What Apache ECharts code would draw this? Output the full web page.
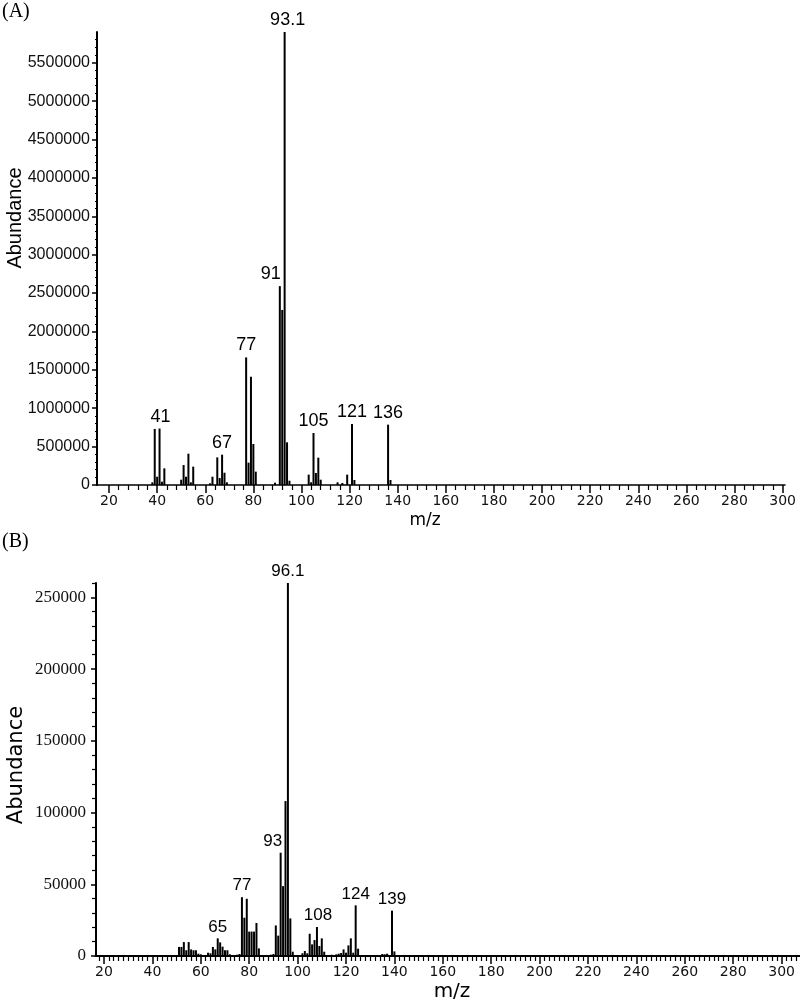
<!DOCTYPE html>
<html><head><meta charset="utf-8">
<script src="https://cdn.jsdelivr.net/npm/echarts@6/dist/echarts.min.js"></script>
<style>html,body{margin:0;padding:0;background:#fff}#c{width:800px;height:1001px}</style>
</head><body><div id="c"></div>
<script>
// ---- Data ----
const mzA = [38,39,40,41,42,43,50,51,52,53,54,55,62,63,65,66,67,68,69,77,78,79,80,81,89,91,92,93,94,95,103,104,105,106,107,108,115,117,119,121,122,136,137];
const abundanceA = [35000,730000,108000,735000,43000,217000,69000,260000,108000,408000,35000,239000,22000,108000,360000,91000,395000,160000,35000,1662000,291000,1410000,534000,174000,30000,2590000,2280000,5900000,556000,56000,135000,35000,677000,156000,356000,69000,35000,26000,135000,794000,65000,786000,65000];
const peakLabelsA = [[41,'41'],[67,'67'],[77,'77'],[91,'91'],[93,'93.1'],[105,'105'],[121,'121'],[136,'136']];

const mzB = [51,52,53,54,55,56,57,58,59,60,61,63,64,65,66,67,68,69,70,71,72,75,76,77,78,79,80,81,82,83,84,89,90,91,92,93,94,95,96,97,98,102,103,104,105,106,107,108,109,110,111,114,116,117,118,119,120,121,122,123,124,125,135,136,137,139,140];
const abundanceB = [6300,6300,9700,4000,9700,4600,4000,4000,1600,1200,700,2300,1900,6300,4600,12300,9500,6500,4000,4000,1200,900,1400,41000,26700,39900,17000,17000,17000,23000,5300,900,1400,21300,14200,72000,48700,108000,260000,26200,3000,1900,3500,1900,15500,8100,11100,20200,7000,12300,3000,900,1200,1600,2100,4600,2300,7400,12300,2300,35300,5100,1400,1200,1600,31600,3200];
const peakLabelsB = [[67,'65'],[77,'77'],[93,'93'],[96,'96.1'],[108,'108'],[124,'124'],[139,'139']];

const xTickLabels = [20,40,60,80,100,120,140,160,180,200,220,240,260,280,300];
const yTickLabelsA = [0,500000,1000000,1500000,2000000,2500000,3000000,3500000,4000000,4500000,5000000,5500000];
const yTickLabelsB = [0,50000,100000,150000,200000,250000];

// ---- Layout / style ----
const labelOffsetA = {91: [-9, 0], 93: [3, 0], 41: [1, 0]};
const labelOffsetB = {93: [-8, 0], 108: [1, 0]};

function range(a, b, step) { const r = []; for (let v = a; v <= b + 1e-9; v += step) r.push(+v.toFixed(6)); return r; }
const xMinorA = range(20, 300, 4).filter(v => v % 20 !== 0);
const xMinorB = range(18, 306, 2).filter(v => v % 20 !== 0);
const yMinorA = range(0, 5800000, 100000).filter(v => v % 500000 !== 0);
const yMinorB = range(0, 260000, 10000).filter(v => v % 50000 !== 0);

function buildData(mz, ab, labels, offsets, fs) {
  const lab = {}; labels.forEach(([m, t]) => lab[m] = t);
  return mz.map((m, i) => {
    const item = { value: [m, ab[i]] };
    if (lab[m] !== undefined) {
      item.label = { show: true, position: 'top', distance: 3, formatter: lab[m],
        offset: offsets[m] || [0, 0], color: '#000', fontFamily: 'Liberation Sans', fontSize: fs };
    }
    return item;
  });
}

const gridA = { left: 97, top: 32, width: 688, height: 453 };
const gridB = { left: 96, top: 583, width: 704, height: 373 };
const xRangeA = [15, 301], xRangeB = [16.7, 307.6];
const yMaxA = 5900000, yMaxB = 260000;

const plain = v => String(Math.round(v));
const xLabelStyle = { color: '#111', fontFamily: 'DejaVu Sans', fontSize: 14, formatter: plain };

function xAxes(gridIndex, rng, minor, minorLen, lineW) {
  return [
    { type: 'value', gridIndex, min: rng[0], max: rng[1], position: 'bottom',
      axisLine: { show: true, onZero: false, lineStyle: { color: '#000', width: lineW } },
      axisTick: { show: true, inside: false, length: 8, customValues: xTickLabels, lineStyle: { color: '#000', width: 1.5 } },
      axisLabel: Object.assign({ show: true, margin: 9, customValues: xTickLabels }, xLabelStyle),
      splitLine: { show: false } },
    { type: 'value', gridIndex, min: rng[0], max: rng[1], position: 'bottom',
      axisLine: { show: false, onZero: false },
      axisTick: { show: true, inside: false, length: minorLen, customValues: minor, lineStyle: { color: '#000', width: 1.2 } },
      axisLabel: { show: false }, splitLine: { show: false } }
  ];
}
function yAxes(gridIndex, max, ticks, minor, minorLen, labelStyle, margin) {
  return [
    { type: 'value', gridIndex, min: 0, max, position: 'left',
      axisLine: { show: true, onZero: false, lineStyle: { color: '#000', width: 2 } },
      axisTick: { show: true, inside: false, length: 5, customValues: ticks, lineStyle: { color: '#000', width: 1.5 } },
      axisLabel: Object.assign({ show: true, margin, customValues: ticks, formatter: plain }, labelStyle),
      splitLine: { show: false } },
    { type: 'value', gridIndex, min: 0, max, position: 'left',
      axisLine: { show: false, onZero: false },
      axisTick: { show: true, inside: false, length: minorLen, customValues: minor, lineStyle: { color: '#000', width: 1.2 } },
      axisLabel: { show: false }, splitLine: { show: false } }
  ];
}

const option = {
  animation: false,
  backgroundColor: '#fff',
  grid: [gridA, gridB],
  xAxis: [...xAxes(0, xRangeA, xMinorA, 5, 1.5), ...xAxes(1, xRangeB, xMinorB, 5, 2)],
  yAxis: [
    ...yAxes(0, yMaxA, yTickLabelsA, yMinorA, 2, { color: '#111', fontFamily: 'Liberation Sans', fontSize: 16 }, 7),
    ...yAxes(1, yMaxB, yTickLabelsB, yMinorB, 4, { color: '#111', fontFamily: 'Liberation Serif', fontSize: 17 }, 10)
  ],
  series: [
    { type: 'bar', xAxisIndex: 0, yAxisIndex: 0, barWidth: 2, itemStyle: { color: '#000' },
      data: buildData(mzA, abundanceA, peakLabelsA, labelOffsetA, 18) },
    { type: 'bar', xAxisIndex: 2, yAxisIndex: 2, barWidth: 2, itemStyle: { color: '#000' },
      data: buildData(mzB, abundanceB, peakLabelsB, labelOffsetB, 17) }
  ],
  graphic: [
    { type: 'text', left: 2, top: 2, style: { text: '(A)', font: '20px "Liberation Serif"', fill: '#000' } },
    { type: 'text', left: 2, top: 532, style: { text: '(B)', font: '20px "Liberation Serif"', fill: '#000' } },
    { type: 'text', x: 15, y: 218, rotation: Math.PI / 2, style: { text: 'Abundance', font: '20px "Liberation Sans"', fill: '#000', align: 'center', verticalAlign: 'middle' } },
    { type: 'text', x: 17, y: 765, rotation: Math.PI / 2, style: { text: 'Abundance', font: '21px "DejaVu Sans"', fill: '#000', align: 'center', verticalAlign: 'middle' } },
    { type: 'text', x: 425, y: 521, style: { text: 'm/z', font: '17px "DejaVu Sans"', fill: '#000', align: 'center', verticalAlign: 'middle' } },
    { type: 'text', x: 452, y: 992, style: { text: 'm/z', font: '20px "DejaVu Sans"', fill: '#000', align: 'center', verticalAlign: 'middle' } }
  ]
};
echarts.init(document.getElementById('c')).setOption(option);
</script></body></html>
